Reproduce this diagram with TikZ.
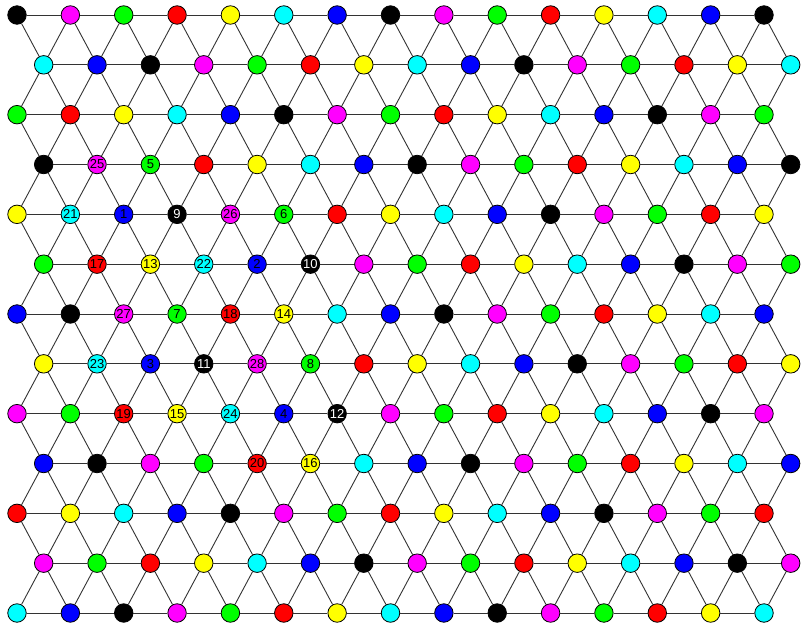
\documentclass[tikz,border=0pt]{standalone}
\usepackage{fontspec}
\setmainfont{Liberation Sans}
\definecolor{c0}{RGB}{0,0,0}
\definecolor{c1}{RGB}{255,0,255}
\definecolor{c2}{RGB}{0,255,0}
\definecolor{c3}{RGB}{255,0,0}
\definecolor{c4}{RGB}{255,255,0}
\definecolor{c5}{RGB}{0,255,255}
\definecolor{c6}{RGB}{0,0,255}
\colorlet{t0}{white}
\colorlet{t1}{black}
\colorlet{t2}{black}
\colorlet{t3}{black}
\colorlet{t4}{black}
\colorlet{t5}{black}
\colorlet{t6}{black}
\newcommand\setlab[2]{\expandafter\def\csname lab-#1\endcsname{#2}}
\setlab{3-1}{25}\setlab{3-2}{5}
\setlab{4-1}{21}\setlab{4-2}{1}\setlab{4-3}{9}\setlab{4-4}{26}\setlab{4-5}{6}
\setlab{5-1}{17}\setlab{5-2}{13}\setlab{5-3}{22}\setlab{5-4}{2}\setlab{5-5}{10}
\setlab{6-2}{27}\setlab{6-3}{7}\setlab{6-4}{18}\setlab{6-5}{14}
\setlab{7-1}{23}\setlab{7-2}{3}\setlab{7-3}{11}\setlab{7-4}{28}\setlab{7-5}{8}
\setlab{8-2}{19}\setlab{8-3}{15}\setlab{8-4}{24}\setlab{8-5}{4}\setlab{8-6}{12}
\setlab{9-4}{20}\setlab{9-5}{16}
\tikzset{
  vtx/.style={circle,draw=black,line width=0.8pt,minimum size=18.5pt,inner sep=0pt,
    font=\fontsize{13}{13}\selectfont},
  edg/.style={line width=0.9pt,draw=black!80}
}
\begin{document}
\begin{tikzpicture}[x=1pt,y=1pt]
\useasboundingbox (0,0) rectangle (801,-625);
\foreach \r in {0,...,12}{
  \foreach \c in {0,...,14}{
    \pgfmathtruncatemacro\rowodd{mod(\r,2)}
    \pgfmathsetmacro\x{17+53.357*\c+26.68*\rowodd}
    \pgfmathsetmacro\y{-15-49.833*\r}
    \pgfmathtruncatemacro\k{mod(\r+4*\rowodd+\c,7)}
    \node[vtx,fill=c\k,text=t\k] (n-\r-\c) at (\x,\y)
      {\ifcsname lab-\r-\c\endcsname\csname lab-\r-\c\endcsname\fi};
  }
}
% horizontal edges
\foreach \r in {0,...,12}{
  \foreach \c [evaluate=\c as \cn using int(\c+1)] in {0,...,13}{
    \draw[edg] (n-\r-\c) -- (n-\r-\cn);
  }
}
% edges to the same column index in the next row
\foreach \r [evaluate=\r as \rn using int(\r+1)] in {0,...,11}{
  \foreach \c in {0,...,14}{
    \draw[edg] (n-\r-\c) -- (n-\rn-\c);
  }
}
% even rows: to column c-1 of next row
\foreach \r [evaluate=\r as \rn using int(\r+1)] in {0,2,...,10}{
  \foreach \c [evaluate=\c as \cp using int(\c-1)] in {1,...,14}{
    \draw[edg] (n-\r-\c) -- (n-\rn-\cp);
  }
}
% odd rows: to column c+1 of next row
\foreach \r [evaluate=\r as \rn using int(\r+1)] in {1,3,...,11}{
  \foreach \c [evaluate=\c as \cp using int(\c+1)] in {0,...,13}{
    \draw[edg] (n-\r-\c) -- (n-\rn-\cp);
  }
}
\end{tikzpicture}
\end{document}
